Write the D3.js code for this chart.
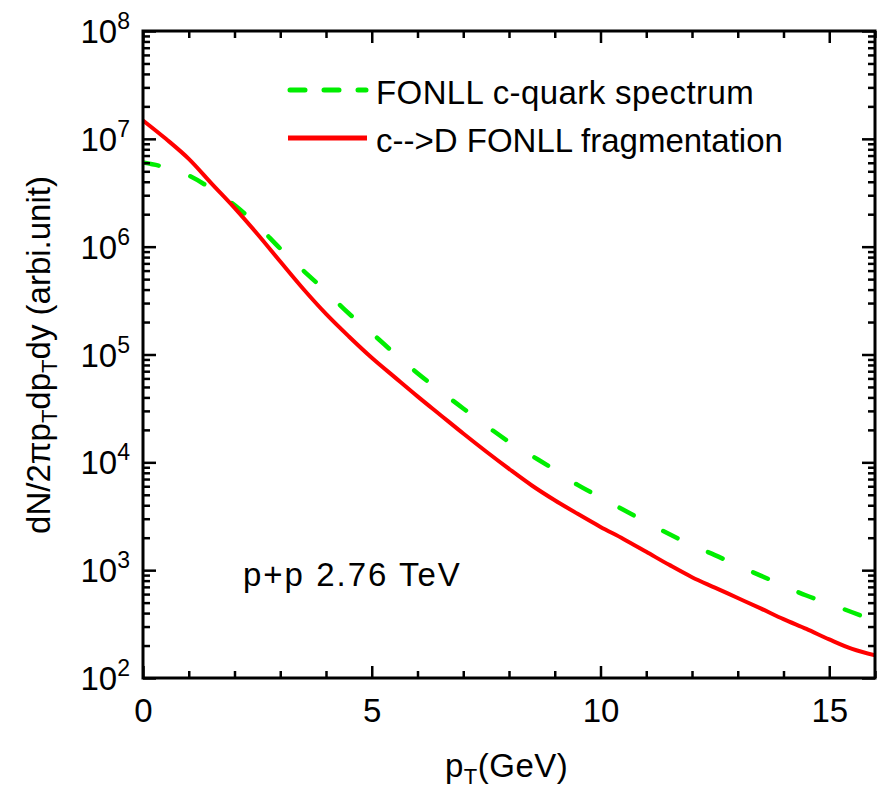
<!DOCTYPE html>
<html><head><meta charset="utf-8">
<script src="https://cdn.jsdelivr.net/npm/d3@7"></script>
<style>
body{margin:0;background:#fff;}
text{font-family:"Liberation Sans",Arial,sans-serif;fill:#000;}
</style></head>
<body><svg id="c" width="882" height="801"></svg>
<script>
const pt = [0,0.5,1,1.5,2,2.5,3,3.5,4,4.5,5,5.5,6,6.5,7,7.5,8,8.5,9,9.5,10,10.5,11,11.5,12,12.5,13,13.5,14,14.5,15,15.5,16];
const cQuark = [6.03e6,5.43e6,4.57e6,3.43e6,2.43e6,1.58e6,9.59e5,6.03e5,3.85e5,2.40e5,1.58e5,1.02e5,6.70e4,4.57e4,3.16e4,2.19e4,1.55e4,1.15e4,8.51e3,6.17e3,4.74e3,3.63e3,2.79e3,2.16e3,1.70e3,1.38e3,1.10e3,891,716,582,490,407,339];
const dMeson = [1.48e7,1.0e7,6.52e6,3.85e6,2.29e6,1.31e6,7.28e5,4.07e5,2.38e5,1.47e5,9.33e4,6.17e4,4.09e4,2.75e4,1.85e4,1.26e4,8.7e3,6.1e3,4.45e3,3.33e3,2.52e3,1.95e3,1.48e3,1.12e3,861,689,552,442,351,285,228,186,162];
const xMajorTicks = [0,5,10,15];
const yMajorExps = [2,3,4,5,6,7,8];
const legendLabels = ["FONLL c-quark spectrum","c-->D FONLL fragmentation"];
const annotation = "p+p 2.76 TeV";

const svg = d3.select("#c");
const L=143, T=31, R=875, B=678;
const x = d3.scaleLinear().domain([0,16]).range([L,R]);
const y = d3.scaleLog().domain([1e2,1e8]).range([B,T]);

const minorX = d3.range(0,17).filter(v=>!xMajorTicks.includes(v));
const majorY = yMajorExps.map(e=>Math.pow(10,e));
const minorY = [];
for(let e=2;e<8;e++) for(let m=2;m<=9;m++) minorY.push(m*Math.pow(10,e));

svg.append("clipPath").attr("id","cp").append("rect")
  .attr("x",L).attr("y",T).attr("width",R-L).attr("height",B-T);

const line = d3.line().x((d,i)=>x(pt[i])).y(d=>y(d)).curve(d3.curveMonotoneX);
const g = svg.append("g").attr("clip-path","url(#cp)");
g.append("path").datum(cQuark).attr("d",line).attr("fill","none")
  .attr("stroke","#00ee00").attr("stroke-width",4.5).attr("stroke-linecap","round")
  .attr("stroke-dasharray","16,33.5");
g.append("path").datum(dMeson).attr("d",line).attr("fill","none")
  .attr("stroke","#ff0000").attr("stroke-width",4);

function styleAxis(sel){
  sel.select(".domain").remove();
  sel.selectAll(".tick line").attr("stroke","#000").attr("stroke-width",2.5);
}
// x axes
svg.append("g").attr("transform",`translate(0,${B})`)
  .call(d3.axisBottom(x).tickValues(xMajorTicks).tickSize(-12).tickPadding(21).tickFormat(d3.format("d")))
  .call(styleAxis).call(s=>s.selectAll("text").attr("font-size",33).attr("font-family","Liberation Sans"));
svg.append("g").attr("transform",`translate(0,${B})`)
  .call(d3.axisBottom(x).tickValues(minorX).tickSize(-7).tickFormat("")).call(styleAxis);
svg.append("g").attr("transform",`translate(0,${T})`)
  .call(d3.axisTop(x).tickValues(xMajorTicks).tickSize(-12).tickFormat("")).call(styleAxis);
svg.append("g").attr("transform",`translate(0,${T})`)
  .call(d3.axisTop(x).tickValues(minorX).tickSize(-7).tickFormat("")).call(styleAxis);
// y axes
svg.append("g").attr("transform",`translate(${L},0)`)
  .call(d3.axisLeft(y).tickValues(majorY).tickSize(-13).tickFormat("")).call(styleAxis);
svg.append("g").attr("transform",`translate(${L},0)`)
  .call(d3.axisLeft(y).tickValues(minorY).tickSize(-7).tickFormat("")).call(styleAxis);
svg.append("g").attr("transform",`translate(${R},0)`)
  .call(d3.axisRight(y).tickValues(majorY).tickSize(-13).tickFormat("")).call(styleAxis);
svg.append("g").attr("transform",`translate(${R},0)`)
  .call(d3.axisRight(y).tickValues(minorY).tickSize(-7).tickFormat("")).call(styleAxis);

// frame
svg.append("rect").attr("x",L).attr("y",T).attr("width",R-L).attr("height",B-T)
  .attr("fill","none").attr("stroke","#000").attr("stroke-width",3);

// y tick labels
const yl = svg.append("g").selectAll("text").data(yMajorExps).join("text")
  .attr("x",L-13).attr("y",e=>y(Math.pow(10,e))+12).attr("text-anchor","end").attr("font-size",33);
yl.append("tspan").text("10");
yl.append("tspan").attr("dy",-14).attr("font-size",23).text(e=>e);

// axis titles
const xt = svg.append("text").attr("x",445).attr("y",777).attr("font-size",33).attr("letter-spacing",0.5);
xt.append("tspan").text("p");
xt.append("tspan").attr("dy",7).attr("font-size",22).text("T");
xt.append("tspan").attr("dy",-7).text("(GeV)");

const yt = svg.append("text").attr("transform","translate(50,355) rotate(-90)")
  .attr("text-anchor","middle").attr("font-size",33);
yt.append("tspan").text("dN/2");
yt.append("tspan").text("π");
yt.append("tspan").text("p");
yt.append("tspan").attr("dy",7).attr("font-size",22).text("T");
yt.append("tspan").attr("dy",-7).text("dp");
yt.append("tspan").attr("dy",7).attr("font-size",22).text("T");
yt.append("tspan").attr("dy",-7).text("dy (arbi.unit)");

// legend
svg.append("line").attr("x1",290).attr("x2",366).attr("y1",90).attr("y2",90)
  .attr("stroke","#00ee00").attr("stroke-width",5).attr("stroke-linecap","round").attr("stroke-dasharray","15,19");
svg.append("line").attr("x1",288).attr("x2",367).attr("y1",138).attr("y2",138)
  .attr("stroke","#ff0000").attr("stroke-width",5);
svg.append("text").attr("x",376).attr("y",104).attr("font-size",33).attr("letter-spacing",0.4).text(legendLabels[0]);
svg.append("text").attr("x",376).attr("y",152).attr("font-size",33).attr("letter-spacing",0).text(legendLabels[1]);

svg.append("text").attr("x",243).attr("y",586).attr("font-size",33).attr("letter-spacing",2).text(annotation);
</script></body></html>
